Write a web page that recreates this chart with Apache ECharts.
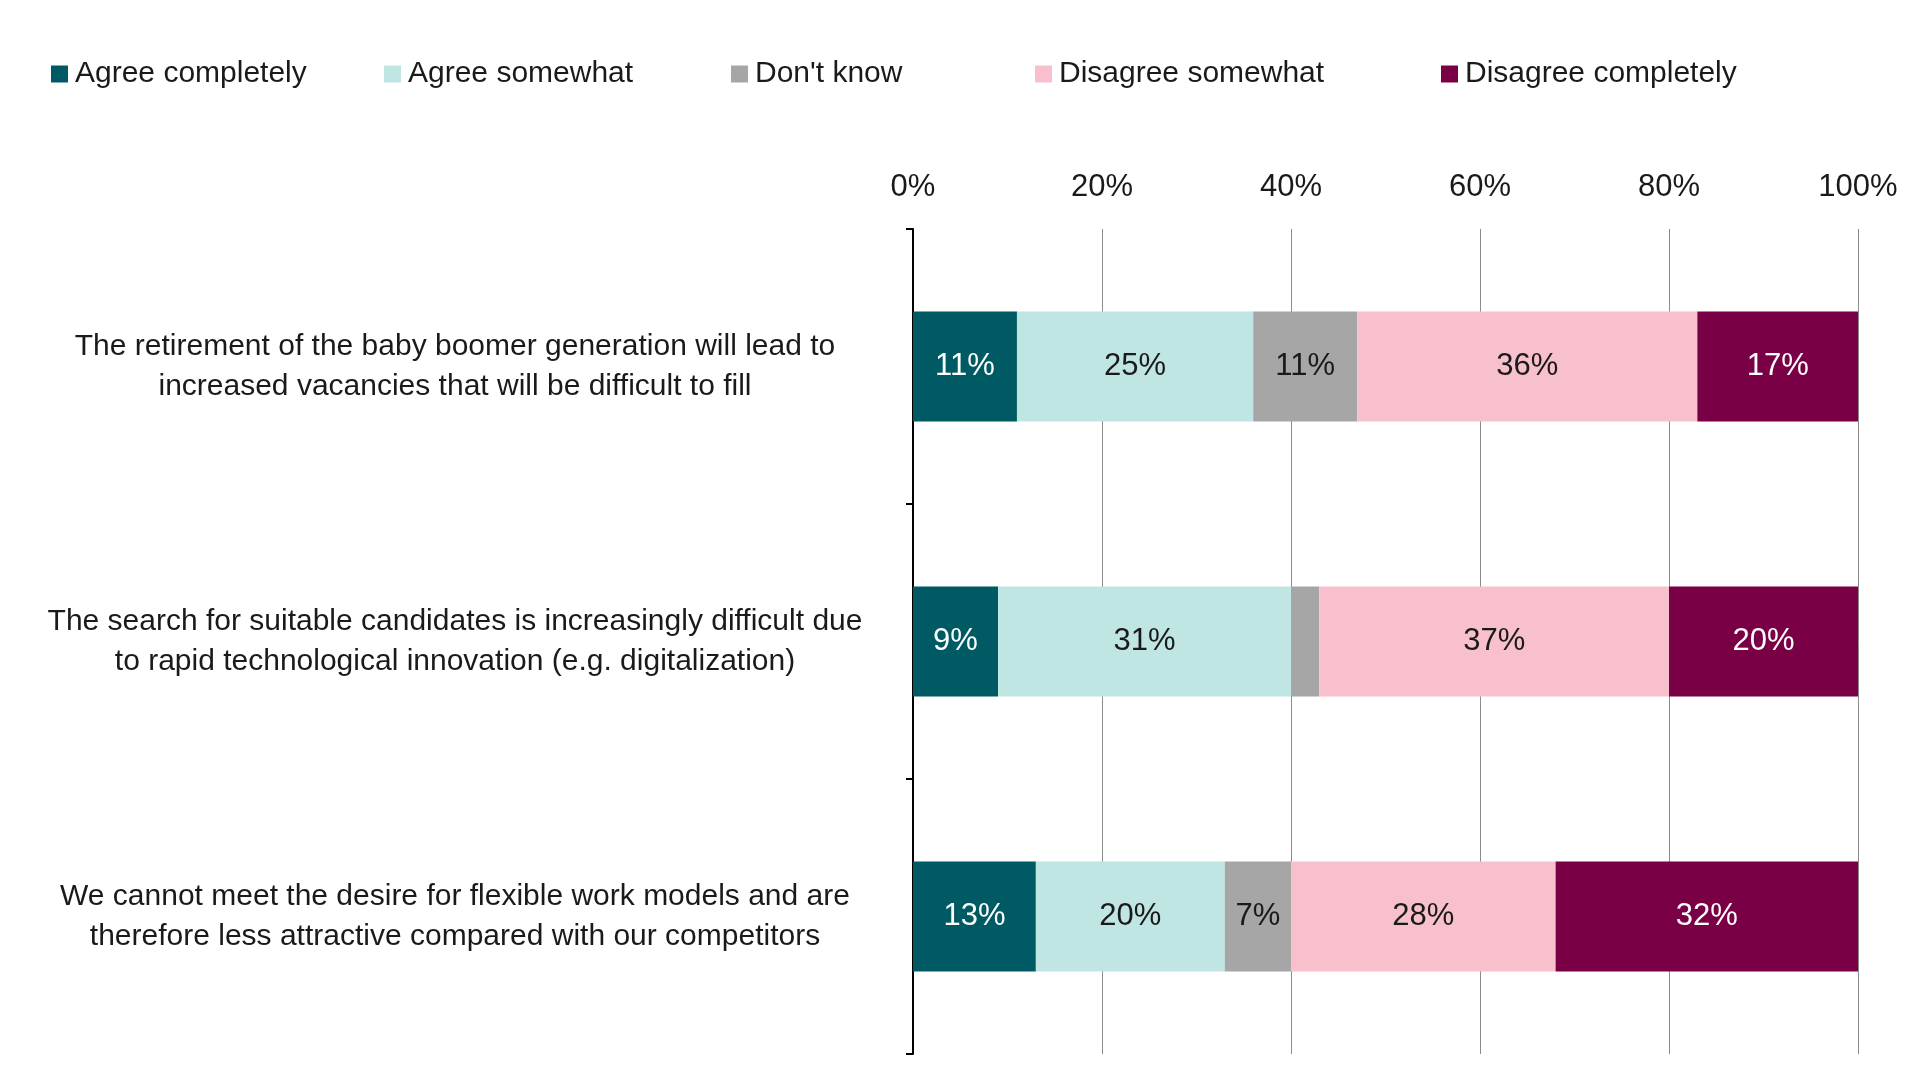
<!DOCTYPE html>
<html>
<head>
<meta charset="utf-8">
<script src="https://cdn.jsdelivr.net/npm/echarts@6/dist/echarts.min.js"></script>
<style>
html,body{margin:0;padding:0;background:#fff;}
#chart{width:1920px;height:1080px;}
</style>
</head>
<body>
<div id="chart"></div>
<script>
const categories = [
  "The retirement of the baby boomer generation will lead to\nincreased vacancies that will be difficult to fill",
  "The search for suitable candidates is increasingly difficult due\nto rapid technological innovation (e.g. digitalization)",
  "We cannot meet the desire for flexible work models and are\ntherefore less attractive compared with our competitors"
];
const seriesNames = ["Agree completely", "Agree somewhat", "Don't know", "Disagree somewhat", "Disagree completely"];
const agreeCompletely = [11, 9, 13];
const agreeSomewhat = [25, 31, 20];
const dontKnow = [11, 3, 7];
const disagreeSomewhat = [36, 37, 28];
const disagreeCompletely = [17, 20, 32];
const xTicks = [0, 20, 40, 60, 80, 100];

const colors = ["#005A64", "#BFE6E3", "#A6A6A6", "#F8C0CC", "#7A0046"];
const labelColors = ["#ffffff", "#1a1a1a", "#1a1a1a", "#1a1a1a", "#ffffff"];
const values = [agreeCompletely, agreeSomewhat, dontKnow, disagreeSomewhat, disagreeCompletely];
const FONT = "Liberation Sans";
const legendLeft = [51, 384, 731, 1035, 1441];

const chart = echarts.init(document.getElementById('chart'));
const option = {
  backgroundColor: '#ffffff',
  animation: false,
  textStyle: { fontFamily: FONT },
  legend: seriesNames.map((n, i) => ({
    data: [n],
    left: legendLeft[i],
    top: 59,
    padding: 0,
    icon: 'rect',
    itemWidth: 17,
    itemHeight: 17,
    textStyle: { fontSize: 30, color: '#1a1a1a', fontFamily: FONT, padding: [0, 0, 0, 2] }
  })),
  grid: { left: 913, right: 62, top: 229, bottom: 26 },
  xAxis: {
    type: 'value',
    position: 'top',
    min: xTicks[0],
    max: xTicks[xTicks.length - 1],
    interval: 20,
    axisLine: { show: false },
    axisTick: { show: false },
    axisLabel: { formatter: '{value}%', fontSize: 31, color: '#1a1a1a', margin: 26, fontFamily: FONT },
    splitLine: { show: true, lineStyle: { color: '#8c8c8c', width: 1 } }
  },
  yAxis: {
    type: 'category',
    inverse: true,
    data: categories,
    axisLine: { show: true, lineStyle: { color: '#000', width: 2 } },
    axisTick: { show: true, length: 7, lineStyle: { color: '#000', width: 2 } },
    axisLabel: { align: 'center', margin: 458, fontSize: 30, lineHeight: 40, padding: [14, 0, 0, 0], color: '#1a1a1a', fontFamily: FONT }
  },
  series: seriesNames.map((n, i) => ({
    name: n,
    type: 'bar',
    stack: 'total',
    barWidth: '40%',
    itemStyle: { color: colors[i] },
    label: {
      show: true,
      position: 'inside',
      color: labelColors[i],
      fontSize: 31,
      fontFamily: FONT,
      formatter: p => p.value >= 5 ? p.value + '%' : ''
    },
    data: values[i]
  }))
};
chart.setOption(option);
</script>
</body>
</html>
